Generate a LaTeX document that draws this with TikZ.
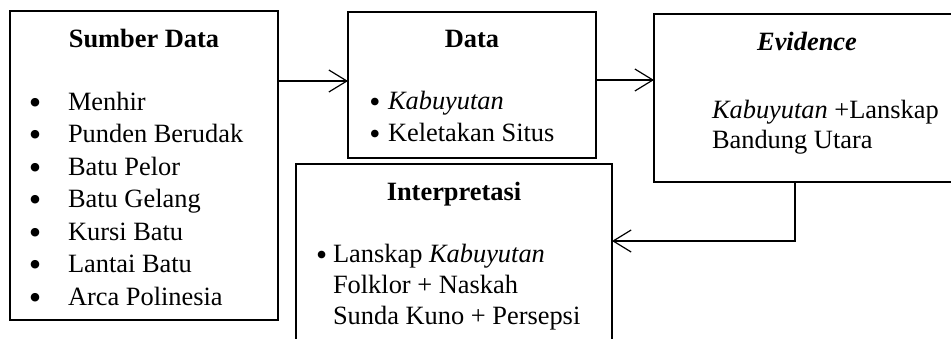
\documentclass[tikz,border=0pt]{standalone}
\usepackage{fontspec}
\setmainfont{Liberation Serif}
\usetikzlibrary{arrows.meta}
\begin{document}
\begin{tikzpicture}[x=0.5pt,y=-0.5pt,
  box/.style={draw,line width=0.6pt,inner sep=0pt,outer sep=0pt},
  txt/.style={inner sep=0pt,outer sep=0pt,font=\fontsize{13.2}{16}\selectfont},
  bigbul/.style={txt,anchor=center,scale=1.35},
  smallbul/.style={txt,anchor=center,scale=1.2},
  arr/.style={line width=0.6pt,-{Straight Barb[length=9pt,width=11pt,line width=0.6pt]}}]
\clip (0,0) rectangle (951,338);
\fill[white] (0,0) rectangle (951,338);
% boxes
\node[box,minimum width=134pt,minimum height=154.5pt] (sumber) at (144,165.5) {};
\node[box,minimum width=124pt,minimum height=73pt] (data) at (472,85) {};
\node[box,minimum width=153pt,minimum height=84pt] (evid) at (807,98) {};
\node[box,minimum width=158pt,minimum height=93pt] (interp) at (454,257) {};
% titles
\node[txt,anchor=base,font=\fontsize{13.2}{16}\selectfont\bfseries] (tsumber) at (144,47) {Sumber Data};
\node[txt,anchor=base,font=\fontsize{13.2}{16}\selectfont\bfseries] (tdata) at (472,47) {Data};
\node[txt,anchor=base,font=\fontsize{13.2}{16}\selectfont\bfseries\itshape] (tevid) at (807,50) {Evidence};
\node[txt,anchor=base,font=\fontsize{13.2}{16}\selectfont\bfseries] (tinterp) at (454,200) {Interpretasi};
% Sumber Data list
\foreach \t [count=\i] in {Menhir,Punden Berudak,Batu Pelor,Batu Gelang,Kursi Batu,Lantai Batu,Arca Polinesia}{
  \node[bigbul] (sb\i) at (35,{106.2+32.5*(\i-1)}) {\textbullet};
  \node[txt,anchor=base west] (s\i) at (68,{110+32.5*(\i-1)}) {\t};
}
% Data list
\node[smallbul] (db1) at (375,105.7) {\textbullet};
\node[txt,anchor=base west] (d1) at (388,109.5) {\textit{Kabuyutan}};
\node[smallbul] (db2) at (375,137.7) {\textbullet};
\node[txt,anchor=base west] (d2) at (388,141.5) {Keletakan Situs};
% Evidence text
\node[txt,anchor=base west] (e1) at (712,118) {\textit{Kabuyutan} +Lanskap};
\node[txt,anchor=base west] (e2) at (712,148) {Bandung Utara};
% Interpretasi text
\node[smallbul] (ib1) at (321.7,258) {\textbullet};
\node[txt,anchor=base west] (i1) at (333,262) {Lanskap \textit{Kabuyutan}};
\node[txt,anchor=base west] (i2) at (333,293.5) {Folklor + Naskah};
\node[txt,anchor=base west] (i3) at (333,324.5) {Sunda Kuno + Persepsi};
% connectors
\draw[arr] (sumber.east |- 0,81) -- (data.west |- 0,81);
\draw[arr] (data.east |- 0,80) -- (evid.west |- 0,80);
\coordinate (estart) at (827,182);
\draw[line width=1.1pt] (estart) -- (795,182);
\draw[arr] (estart) -- (795,182) |- (interp.east |- 0,241);
\end{tikzpicture}
\end{document}
